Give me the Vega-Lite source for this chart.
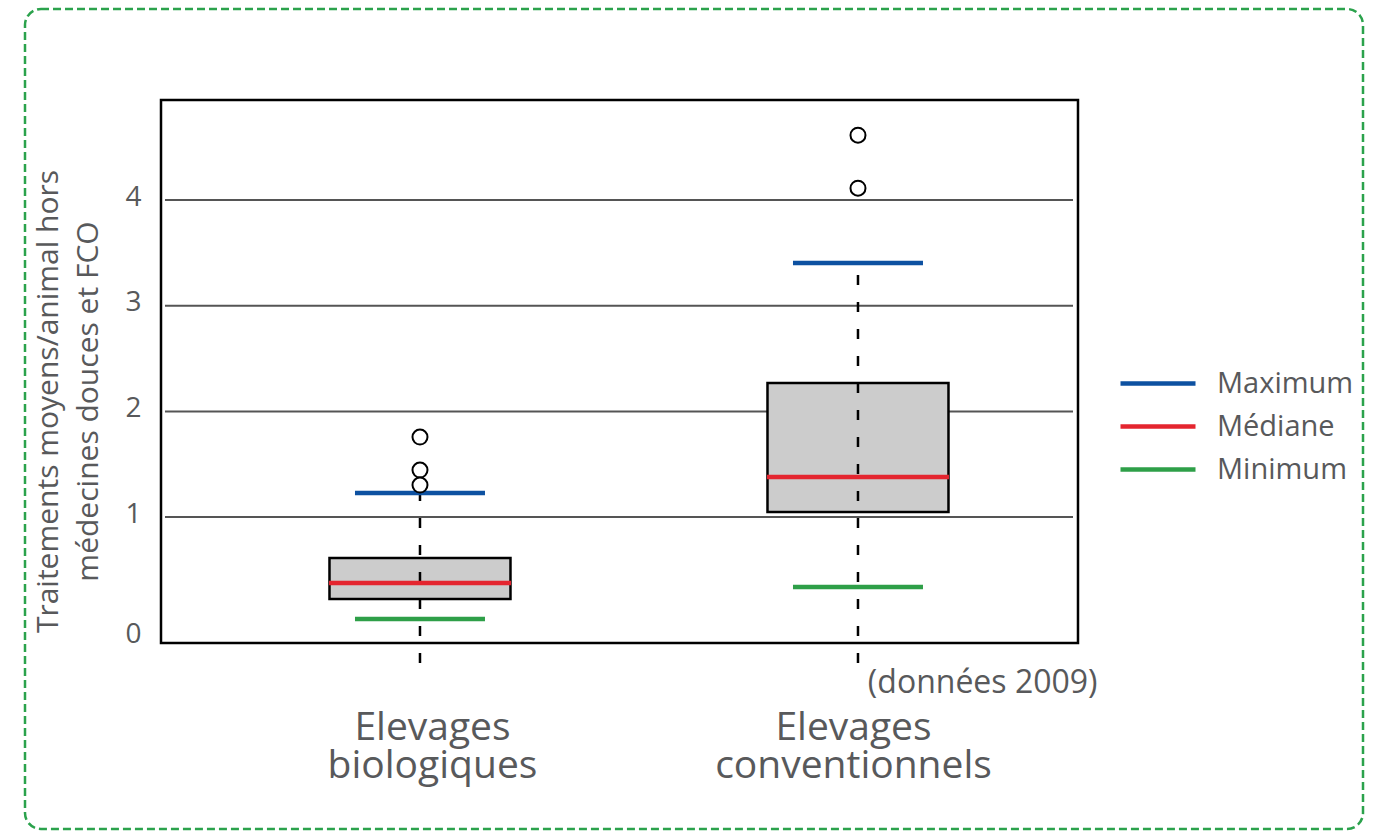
{
  "$schema": "https://vega.github.io/schema/vega-lite/v6.json",
  "width": 1338,
  "height": 820,
  "autosize": {"type": "none"},
  "padding": {"left": 25, "top": 9, "right": 19, "bottom": 3},
  "background": "white",
  "config": {
    "font": "Open Sans",
    "view": {"stroke": "#2ba24c", "strokeWidth": 2.5, "strokeDash": [8, 4], "cornerRadius": 16}
  },
  "datasets": {
    "stats": [
      {"groupe": "Elevages biologiques", "rang": 1, "Minimum": 0.035, "q1": 0.224, "Médiane": 0.376, "q3": 0.612, "Maximum": 1.227},
      {"groupe": "Elevages conventionnels", "rang": 2, "Minimum": 0.338, "q1": 1.048, "Médiane": 1.379, "q3": 2.268, "Maximum": 3.404}
    ],
    "extremes": [
      {"groupe": "Elevages biologiques", "rang": 1, "valeur": 1.757},
      {"groupe": "Elevages biologiques", "rang": 1, "valeur": 1.445},
      {"groupe": "Elevages biologiques", "rang": 1, "valeur": 1.303},
      {"groupe": "Elevages conventionnels", "rang": 2, "valeur": 4.614},
      {"groupe": "Elevages conventionnels", "rang": 2, "valeur": 4.112}
    ],
    "grille": [{"niveau": 1}, {"niveau": 2}, {"niveau": 3}, {"niveau": 4}],
    "cadre": [{"zone": "graphique"}]
  },
  "layer": [
    {
      "data": {"name": "grille"},
      "mark": {"type": "rule", "stroke": "#555555", "strokeWidth": 2},
      "encoding": {
        "x": {"datum": 0.4178, "type": "quantitative", "scale": {"domain": [0.0982, 3.153], "nice": false, "zero": false, "padding": 0}},
        "x2": {"datum": 2.4909},
        "y": {"field": "niveau", "type": "quantitative", "scale": {"domain": [-1.952, 5.808], "nice": false, "zero": false}}
      }
    },
    {
      "data": {"name": "stats"},
      "mark": {"type": "bar", "width": 181, "fill": "#cccccc", "stroke": "black", "strokeWidth": 2.5},
      "encoding": {
        "x": {
          "field": "rang", "type": "quantitative",
          "scale": {"domain": [0.0982, 3.153], "nice": false, "zero": false, "padding": 0},
          "axis": {
            "values": [1, 2],
            "offset": -186,
            "domain": false, "ticks": false, "tickSize": 0, "grid": false,
            "labelExpr": "datum.value == 1 ? ['Elevages', 'biologiques'] : ['Elevages', 'conventionnels']",
            "labelFontSize": 39, "labelLineHeight": 38, "labelColor": "#58595b",
            "labelBaseline": "top", "labelPadding": 65, "labelLimit": 0,
            "labelOffset": {"condition": {"test": "datum.value == 1", "value": 12}, "value": -5},
            "labelFlush": false, "labelOverlap": false, "labelBound": false,
            "title": "(données 2009)",
            "titleFontSize": 32, "titleFontWeight": "normal", "titleColor": "#58595b",
            "titleAlign": "right", "titleBaseline": "middle",
            "titleX": 1072, "titleY": 39
          }
        },
        "y": {
          "field": "q1", "type": "quantitative",
          "scale": {"domain": [-1.952, 5.808], "nice": false, "zero": false},
          "axis": {
            "values": [0, 1, 2, 3, 4],
            "format": "d",
            "offset": -116,
            "domain": false, "ticks": false, "tickSize": 0, "grid": false,
            "labelFontSize": 28, "labelColor": "#58595b", "labelPadding": 0,
            "labelOffset": {"condition": {"test": "datum.value == 0", "value": 12}, "value": -3},
            "labelFlush": false, "labelOverlap": false,
            "title": ["Traitements moyens/animal hors", "médecines douces et FCO"],
            "titleFontSize": 30, "titleFontWeight": "normal", "titleColor": "#58595b",
            "titleLineHeight": 40, "titleAngle": -90,
            "titleAlign": "center", "titleBaseline": "middle",
            "titleX": -93, "titleY": 392
          }
        },
        "y2": {"field": "q3"}
      }
    },
    {
      "data": {"name": "stats"},
      "mark": {"type": "rule", "stroke": "black", "strokeWidth": 2.5},
      "encoding": {
        "x": {"field": "rang", "type": "quantitative", "scale": {"domain": [0.0982, 3.153], "nice": false, "zero": false, "padding": 0}},
        "y": {"field": "Maximum", "type": "quantitative", "scale": {"domain": [-1.952, 5.808], "nice": false, "zero": false}},
        "y2": {"datum": -0.381},
        "strokeDash": {
          "field": "groupe", "type": "nominal", "legend": null,
          "scale": {
            "domain": ["Elevages biologiques", "Elevages conventionnels"],
            "range": [
              [8, 17, 10, 17, 10, 17, 10, 17, 10, 17, 10, 17, 10, 17, 10, 17, 10, 17, 10, 17, 10, 17],
              [0, 12, 10, 17, 10, 17, 10, 17, 10, 17, 10, 17, 10, 17, 10, 17, 10, 17, 10, 17, 10, 17, 10, 17, 10, 17, 10, 17, 10, 17, 10, 17, 10, 17, 10, 17, 10, 17]
            ]
          }
        }
      }
    },
    {
      "data": {"name": "stats"},
      "transform": [{"fold": ["Maximum", "Minimum"], "as": ["statistique", "valeur"]}],
      "mark": {"type": "rule", "strokeWidth": 4.5, "xOffset": -65, "x2Offset": 65},
      "encoding": {
        "x": {"field": "rang", "type": "quantitative", "scale": {"domain": [0.0982, 3.153], "nice": false, "zero": false, "padding": 0}},
        "x2": {"field": "rang"},
        "y": {"field": "valeur", "type": "quantitative", "scale": {"domain": [-1.952, 5.808], "nice": false, "zero": false}},
        "color": {
          "field": "statistique", "type": "nominal",
          "scale": {"domain": ["Maximum", "Médiane", "Minimum"], "range": ["#0d51a1", "#e4252f", "#2e9f48"]},
          "legend": {
            "orient": "none", "legendX": 1115.5, "legendY": 357,
            "title": null, "padding": 0,
            "symbolType": "M-2.5,0H2.5", "symbolSize": 900, "symbolStrokeWidth": 4.5,
            "labelFontSize": 29, "labelColor": "#58595b", "labelOffset": 41.5,
            "rowPadding": 10, "labelBaseline": "middle"
          }
        }
      }
    },
    {
      "data": {"name": "stats"},
      "transform": [{"fold": ["Médiane"], "as": ["statistique", "valeur"]}],
      "mark": {"type": "rule", "strokeWidth": 4.5, "xOffset": -91, "x2Offset": 91},
      "encoding": {
        "x": {"field": "rang", "type": "quantitative", "scale": {"domain": [0.0982, 3.153], "nice": false, "zero": false, "padding": 0}},
        "x2": {"field": "rang"},
        "y": {"field": "valeur", "type": "quantitative", "scale": {"domain": [-1.952, 5.808], "nice": false, "zero": false}},
        "color": {"field": "statistique", "type": "nominal"}
      }
    },
    {
      "data": {"name": "extremes"},
      "mark": {"type": "point", "shape": "circle", "filled": true, "fill": "white", "stroke": "black", "strokeWidth": 2, "size": 225, "opacity": 1},
      "encoding": {
        "x": {"field": "rang", "type": "quantitative", "scale": {"domain": [0.0982, 3.153], "nice": false, "zero": false, "padding": 0}},
        "y": {"field": "valeur", "type": "quantitative", "scale": {"domain": [-1.952, 5.808], "nice": false, "zero": false}}
      }
    },
    {
      "data": {"name": "cadre"},
      "mark": {"type": "rect", "fillOpacity": 0, "stroke": "black", "strokeWidth": 2.5},
      "encoding": {
        "x": {"datum": 0.4087, "type": "quantitative", "scale": {"domain": [0.0982, 3.153], "nice": false, "zero": false, "padding": 0}},
        "x2": {"datum": 2.5023},
        "y": {"datum": -0.192, "type": "quantitative", "scale": {"domain": [-1.952, 5.808], "nice": false, "zero": false}},
        "y2": {"datum": 4.9468}
      }
    }
  ]
}
